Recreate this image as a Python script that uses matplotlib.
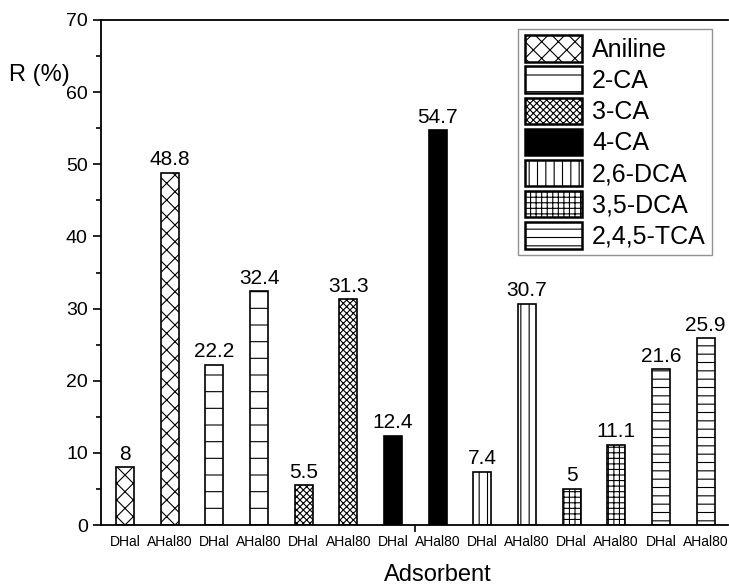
import matplotlib
matplotlib.use("Agg")
import matplotlib.pyplot as plt
from matplotlib.patches import Patch
import numpy as np

plt.rcParams["font.family"] = ["Liberation Sans", "DejaVu Sans"]
plt.rcParams["hatch.linewidth"] = 0.8

compounds = ["Aniline", "2-CA", "3-CA", "4-CA", "2,6-DCA", "3,5-DCA", "2,4,5-TCA"]
adsorbents = ["DHal", "AHal80"]
dhal_values = [8, 22.2, 5.5, 12.4, 7.4, 5, 21.6]
ahal80_values = [48.8, 32.4, 31.3, 54.7, 30.7, 11.1, 25.9]
hatches = ["xx", "-", "xxxxx", None, "||", "+++", "--"]
value_labels_dhal = ["8", "22.2", "5.5", "12.4", "7.4", "5", "21.6"]
value_labels_ahal = ["48.8", "32.4", "31.3", "54.7", "30.7", "11.1", "25.9"]

fig = plt.figure(figsize=(7.29, 5.88), dpi=100)
ax = fig.add_axes([0.1385, 0.107, 0.86, 0.859])

x_labels = []
x_pos = []
handles = []
for i, name in enumerate(compounds):
    face = "black" if hatches[i] is None else "white"
    for j, (vals, labs) in enumerate([(dhal_values, value_labels_dhal),
                                      (ahal80_values, value_labels_ahal)]):
        x = 2 * i + j
        ax.bar(x, vals[i], width=0.4, color=face, edgecolor="black",
               hatch=hatches[i], linewidth=1.2)
        ax.text(x, vals[i] + 0.5, labs[i], ha="center", va="bottom",
                fontsize=15)
        x_pos.append(x)
        x_labels.append(adsorbents[j])
    handles.append(Patch(facecolor=face, edgecolor="black",
                         hatch=hatches[i], linewidth=1.8, label=name))

ax.set_xlim(-0.54, 13.5)
ax.set_ylim(0, 70)
ax.set_xticks(x_pos)
ax.set_xticklabels(x_labels, fontsize=10)
ax.set_xticks([6.5], minor=True)
ax.tick_params(axis="x", which="major", length=0, pad=7)
ax.tick_params(axis="x", which="minor", direction="out", length=5, width=1.2)
ax.set_yticks(np.arange(0, 71, 10))
ax.set_yticks(np.arange(5, 70, 10), minor=True)
ax.tick_params(axis="y", which="major", direction="out", length=6,
               width=1.2, labelsize=14)
ax.tick_params(axis="y", which="minor", direction="out", length=3.5,
               width=1.2)
for s in ["left", "bottom", "top"]:
    ax.spines[s].set_linewidth(1.3)
ax.spines["right"].set_visible(False)

fig.text(0.012, 0.872, "R (%)", fontsize=17, ha="left", va="center")
fig.text(0.60, 0.022, "Adsorbent", fontsize=17, ha="center", va="center")

leg = ax.legend(handles=handles, loc="upper right",
                bbox_to_anchor=(0.975, 0.982), fontsize=18,
                handlelength=2.3, handleheight=1.25, handletextpad=0.4,
                labelspacing=0.18, borderpad=0.25, borderaxespad=0.0,
                frameon=True, fancybox=False)
leg.get_frame().set_edgecolor("#777777")
leg.get_frame().set_linewidth(1.0)

fig.savefig("out.png", dpi=100)
